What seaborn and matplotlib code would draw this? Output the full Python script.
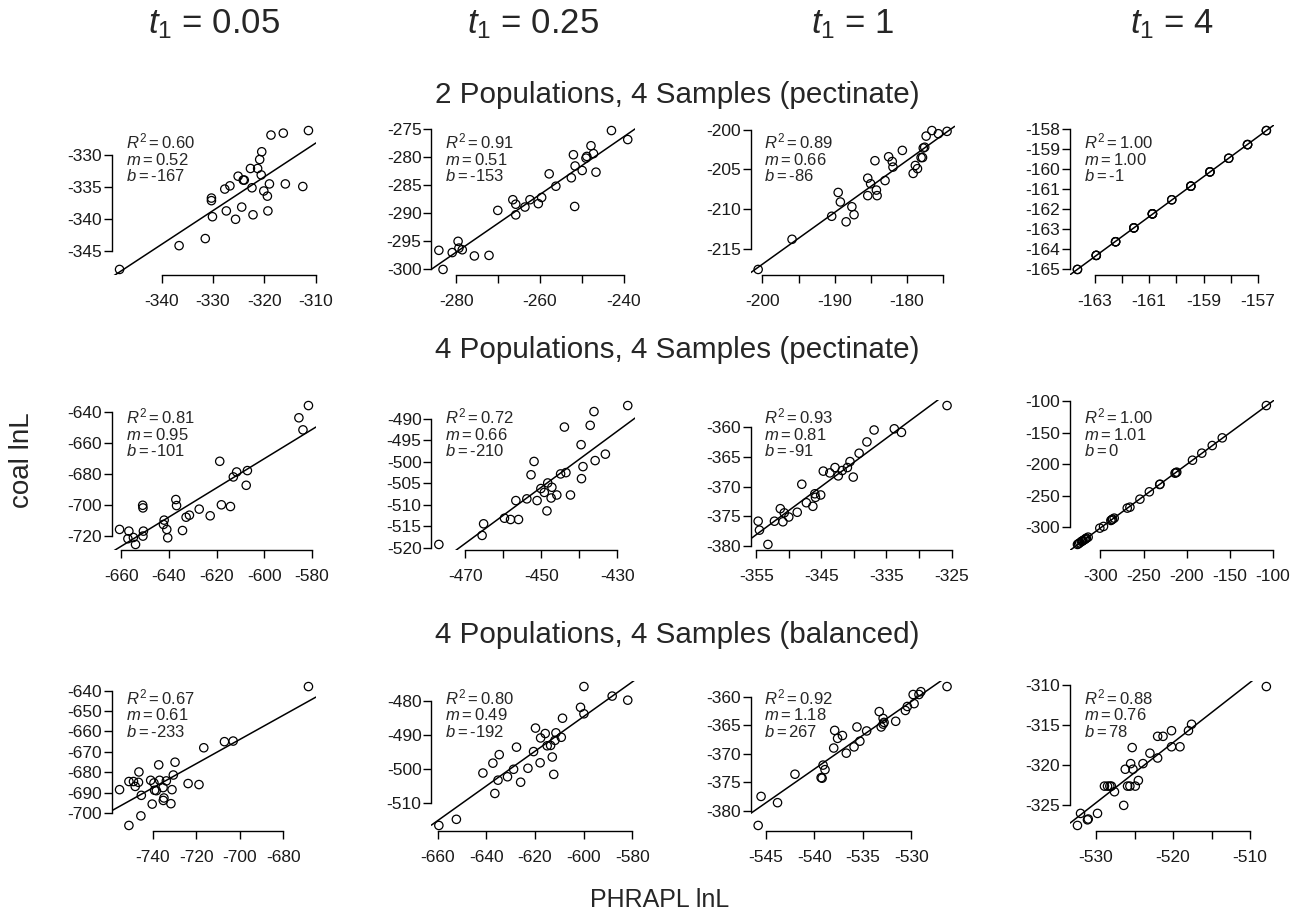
import matplotlib
matplotlib.use("Agg")
import matplotlib.pyplot as plt
import seaborn as sns

sns.set_theme(style="ticks")
plt.rcParams["font.family"] = ["Liberation Sans", "DejaVu Sans"]
plt.rcParams["mathtext.fontset"] = "custom"
plt.rcParams["mathtext.rm"] = "Liberation Sans"
plt.rcParams["mathtext.it"] = "Liberation Sans:italic"
plt.rcParams["axes.unicode_minus"] = False

# column / row headers
col_titles = [r"$t_{\mathit{1}}$ = 0.05", r"$t_{\mathit{1}}$ = 0.25", r"$t_{\mathit{1}}$ = 1", r"$t_{\mathit{1}}$ = 4"]
row_titles = ["2 Populations, 4 Samples (pectinate)",
              "4 Populations, 4 Samples (pectinate)",
              "4 Populations, 4 Samples (balanced)"]

# ---- row 1 : 2 populations, pectinate
x_r1c1 = [-348.2, -336.6, -331.5, -330.3, -330.3, -330.1, -327.7, -327.4, -326.7, -325.6, -325.1, -324.4, -324.1, -323.9, -322.7,
          -322.4, -322.2, -321.3, -320.9, -320.6, -320.5, -320.1, -319.4, -319.3, -319.0, -318.7, -316.3, -315.9, -312.5, -311.4]
y_r1c1 = [-347.8, -344.1, -343.0, -336.7, -337.1, -339.6, -335.3, -338.7, -334.8, -340.0, -333.3, -338.1, -333.9, -333.9, -332.1,
          -335.1, -339.3, -332.1, -330.7, -333.1, -329.5, -335.6, -336.4, -338.7, -334.5, -326.9, -326.6, -334.5, -334.9, -326.2]

x_r1c2 = [-284.2, -283.2, -281.0, -279.6, -279.4, -278.6, -275.7, -272.2, -270.1, -266.5, -265.8, -265.8, -263.6, -262.4, -260.4,
          -259.6, -257.8, -256.2, -252.5, -252.0, -251.7, -251.6, -249.9, -249.0, -248.8, -247.8, -247.2, -246.6, -242.9, -239.0]
y_r1c2 = [-296.6, -300.0, -297.0, -295.0, -296.2, -296.5, -297.6, -297.5, -289.5, -287.6, -288.4, -290.3, -288.9, -287.6, -288.3,
          -287.2, -283.0, -285.2, -283.7, -279.6, -288.8, -281.6, -282.4, -280.2, -279.9, -278.0, -279.4, -282.7, -275.3, -276.9]

x_r1c3 = [-200.6, -195.9, -190.4, -189.5, -189.2, -188.4, -187.6, -187.3, -185.4, -185.4, -185.0, -184.4, -184.2, -184.1, -183.0,
          -182.5, -182.0, -181.9, -180.6, -179.1, -178.8, -178.5, -178.0, -177.8, -177.7, -177.5, -177.3, -176.5, -175.6, -174.4]
y_r1c3 = [-217.6, -213.8, -210.9, -207.9, -209.1, -211.6, -209.7, -210.7, -206.1, -208.3, -206.8, -203.9, -207.6, -208.3, -206.4,
          -203.4, -204.0, -204.7, -202.6, -205.5, -204.5, -204.9, -203.5, -203.5, -202.3, -202.2, -200.8, -200.1, -200.5, -200.2]

x_r1c4 = [-163.63, -163.63, -162.94, -162.94, -162.94, -162.23, -162.23, -161.56, -161.56, -161.56, -160.88, -160.88, -160.88,
          -160.17, -160.17, -159.47, -159.47, -159.47, -158.77, -158.77, -158.77, -158.08, -158.08, -157.39, -157.39, -157.39,
          -156.70, -156.70, -160.88, -162.23]
y_r1c4 = [-165.00, -165.00, -164.30, -164.30, -164.30, -163.62, -163.62, -162.93, -162.93, -162.93, -162.23, -162.23, -162.23,
          -161.53, -161.53, -160.85, -160.85, -160.85, -160.14, -160.14, -160.14, -159.46, -159.46, -158.78, -158.78, -158.78,
          -158.08, -158.08, -162.23, -163.62]

# ---- row 2 : 4 populations, pectinate
x_r2c1 = [-660.7, -656.8, -657.2, -654.9, -654.0, -651.0, -650.9, -650.7, -650.9, -642.0, -642.3, -640.9, -640.5, -637.1, -636.8,
          -634.3, -632.8, -631.4, -627.3, -622.7, -618.7, -618.0, -614.2, -613.0, -611.6, -607.6, -607.1, -585.5, -583.8, -581.5]
y_r2c1 = [-715.7, -716.8, -721.7, -720.9, -725.4, -700.1, -701.8, -716.8, -720.0, -709.7, -712.5, -715.7, -721.1, -696.4, -700.3,
          -716.4, -707.8, -706.5, -702.6, -706.9, -671.7, -699.8, -700.9, -681.8, -678.6, -687.2, -677.7, -643.6, -651.4, -635.7]

x_r2c2 = [-477.0, -465.6, -465.2, -459.7, -458.1, -456.0, -456.7, -453.8, -452.7, -451.9, -451.1, -450.1, -449.2, -448.5, -448.3,
          -447.4, -447.2, -445.9, -444.9, -443.9, -443.5, -442.3, -439.5, -439.4, -439.0, -437.1, -436.1, -435.8, -433.1, -427.2]
y_r2c2 = [-519.2, -517.1, -514.4, -513.1, -513.4, -513.4, -509.0, -508.6, -503.0, -499.9, -509.0, -506.2, -507.1, -511.4, -504.9,
          -508.4, -505.9, -507.7, -502.8, -491.9, -502.5, -507.7, -496.0, -503.9, -501.1, -491.5, -488.3, -499.7, -498.2, -486.9]

x_r2c3 = [-354.7, -354.5, -353.2, -352.2, -351.3, -350.9, -350.7, -350.0, -348.7, -348.0, -347.3, -346.3, -346.0, -345.9, -345.1,
          -344.7, -343.7, -342.9, -342.4, -341.8, -341.0, -340.6, -340.1, -339.2, -338.0, -336.9, -333.8, -332.7, -325.7]
y_r2c3 = [-375.8, -377.3, -379.7, -375.8, -373.7, -375.9, -374.4, -375.1, -374.3, -369.6, -372.7, -373.3, -371.2, -371.8, -371.4,
          -367.4, -367.7, -366.8, -368.2, -367.3, -366.8, -365.8, -368.4, -364.4, -362.5, -360.5, -360.3, -360.9, -356.4]

x_r2c4 = [-326.7, -325.5, -324.0, -322.1, -321.0, -320.2, -318.2, -317.3, -316.3, -314.3, -300.8, -296.5, -288.0, -286.9, -286.0,
          -284.1, -269.0, -265.9, -254.3, -243.4, -231.4, -231.0, -213.6, -212.6, -211.6, -193.4, -182.6, -170.5, -158.9, -107.8]
y_r2c4 = [-327.5, -326.3, -324.9, -322.8, -322.0, -321.2, -319.6, -318.5, -317.5, -315.9, -301.6, -298.9, -289.4, -288.3, -287.3,
          -285.7, -269.8, -268.3, -255.6, -243.9, -232.3, -231.8, -214.3, -213.5, -212.7, -193.7, -182.5, -170.4, -158.2, -106.9]

# ---- row 3 : 4 populations, balanced
x_r3c1 = [-755.3, -751.0, -751.0, -748.9, -748.1, -746.6, -746.4, -745.3, -745.5, -741.0, -740.3, -739.5, -739.2, -738.4, -737.3,
          -736.9, -735.3, -735.2, -734.9, -733.8, -731.7, -731.2, -730.6, -729.8, -723.8, -718.8, -716.6, -707.1, -703.1, -668.5]
y_r3c1 = [-688.6, -684.6, -706.2, -684.6, -687.0, -685.0, -679.9, -691.4, -701.5, -684.0, -695.7, -685.3, -688.9, -689.1, -676.4,
          -684.0, -687.6, -693.9, -692.7, -684.3, -695.5, -688.6, -681.4, -675.1, -685.6, -686.1, -668.0, -665.0, -664.7, -637.9]

x_r3c2 = [-659.5, -652.3, -641.4, -637.3, -636.5, -635.2, -634.7, -631.3, -628.8, -627.6, -625.9, -622.9, -620.6, -619.8, -617.9,
          -617.7, -615.8, -615.0, -613.6, -612.9, -612.3, -611.8, -611.4, -609.2, -608.7, -601.3, -599.9, -599.9, -588.3, -581.9]
y_r3c2 = [-516.7, -514.9, -501.3, -498.4, -507.3, -503.4, -495.9, -502.4, -500.2, -493.7, -504.0, -499.9, -495.0, -488.1, -498.3,
          -491.0, -489.7, -493.3, -493.2, -496.6, -501.7, -491.7, -489.5, -490.8, -485.2, -482.0, -475.9, -483.9, -478.7, -479.9]

x_r3c3 = [-545.8, -545.5, -543.8, -542.0, -539.3, -539.2, -539.1, -538.9, -538.0, -537.9, -537.6, -537.1, -536.7, -535.9, -535.6,
          -535.3, -534.6, -533.3, -533.1, -532.9, -532.9, -532.8, -531.6, -530.6, -530.4, -529.8, -529.7, -529.2, -529.0, -526.3]
y_r3c3 = [-382.6, -377.5, -378.6, -373.6, -374.2, -374.3, -372.0, -372.8, -369.0, -365.9, -367.3, -366.8, -369.9, -368.8, -365.3,
          -367.8, -366.0, -362.6, -365.3, -363.8, -364.8, -364.5, -364.3, -362.4, -361.7, -359.6, -361.2, -359.6, -359.1, -358.2]

x_r3c4 = [-532.4, -532.0, -531.1, -531.0, -529.8, -528.9, -528.5, -528.2, -528.0, -527.6, -526.4, -526.2, -525.9, -525.6, -525.5,
          -525.3, -525.2, -524.9, -524.5, -523.9, -523.0, -522.0, -522.0, -521.3, -520.2, -520.2, -519.1, -518.0, -517.6, -507.9]
y_r3c4 = [-327.5, -326.0, -326.8, -326.7, -326.0, -322.6, -322.6, -322.6, -322.6, -323.3, -325.0, -320.5, -322.6, -322.6, -319.8,
          -317.8, -320.5, -322.6, -321.9, -319.8, -318.5, -316.4, -319.1, -316.4, -317.7, -315.7, -317.7, -315.7, -314.9, -310.2]

# fit summaries as printed in each panel
r2_txt = [["0.60", "0.91", "0.89", "1.00"], ["0.81", "0.72", "0.93", "1.00"], ["0.67", "0.80", "0.92", "0.88"]]
m_txt = [["0.52", "0.51", "0.66", "1.00"], ["0.95", "0.66", "0.81", "1.01"], ["0.61", "0.49", "1.18", "0.76"]]
b_txt = [["-167", "-153", "-86", "-1"], ["-101", "-210", "-91", "0"], ["-233", "-192", "267", "78"]]

# axis ticks (R drops labels that would collide, so some ticks stay unlabelled)
xticks = [[range(-340, -309, 10), range(-280, -239, 10), range(-200, -174, 5), range(-163, -156, 1)],
          [range(-660, -579, 20), range(-470, -429, 10), range(-355, -324, 5), range(-300, -99, 50)],
          [range(-740, -679, 20), range(-660, -579, 20), range(-545, -529, 5), range(-530, -509, 5)]]
xlab_every = [[1, 2, 2, 2], [1, 2, 2, 1], [1, 1, 1, 2]]
yticks = [[range(-345, -329, 5), range(-300, -274, 5), range(-215, -199, 5), range(-165, -157, 1)],
          [range(-720, -639, 20), range(-520, -489, 5), range(-380, -359, 5), range(-300, -99, 50)],
          [range(-700, -639, 10), range(-510, -479, 10), range(-380, -359, 5), range(-325, -309, 5)]]

data = [[(x_r1c1, y_r1c1), (x_r1c2, y_r1c2), (x_r1c3, y_r1c3), (x_r1c4, y_r1c4)],
        [(x_r2c1, y_r2c1), (x_r2c2, y_r2c2), (x_r2c3, y_r2c3), (x_r2c4, y_r2c4)],
        [(x_r3c1, y_r3c1), (x_r3c2, y_r3c2), (x_r3c3, y_r3c3), (x_r3c4, y_r3c4)]]

W, H = 1299, 921
fig = plt.figure(figsize=(W / 100, H / 100), dpi=100)

box_left = [112 + 319.3 * j for j in range(4)]
box_top = [125, 400, 681]
box_w, box_h = 204, 150

for i in range(3):
    for j in range(4):
        x, y = data[i][j]
        ax = fig.add_axes([box_left[j] / W, 1 - (box_top[i] + box_h) / H, box_w / W, box_h / H])
        sns.scatterplot(x=x, y=y, ax=ax, marker="o", s=36, color="black",
                        facecolors="none", edgecolor="black", linewidth=0.9, zorder=3)
        # R style 4% padding
        xr, yr = max(x) - min(x), max(y) - min(y)
        xlim = (min(x) - 0.04 * xr, max(x) + 0.04 * xr)
        ylim = (min(y) - 0.04 * yr, max(y) + 0.04 * yr)
        ax.set_xlim(xlim)
        ax.set_ylim(ylim)
        sns.regplot(x=x, y=y, ax=ax, scatter=False, ci=None, truncate=False,
                    color="black", line_kws=dict(lw=1.1, zorder=4))
        ax.set_xlim(xlim)
        ax.set_ylim(ylim)

        xt = list(xticks[i][j])
        yt = list(yticks[i][j])
        ax.set_xticks(xt, labels=[str(v) if k % xlab_every[i][j] == 0 else "" for k, v in enumerate(xt)])
        ax.set_yticks(yt, labels=[str(v) for v in yt])
        sns.despine(ax=ax)
        ax.spines["bottom"].set_bounds(xt[0], xt[-1])
        ax.spines["left"].set_bounds(yt[0], yt[-1])
        for s in ["bottom", "left"]:
            ax.spines[s].set_linewidth(1.0)
            ax.spines[s].set_color("black")
        ax.tick_params(length=5.5, width=1.0, color="black", labelsize=12.5, labelcolor="#1a1a1a")
        ax.tick_params(axis="x", pad=8)
        ax.tick_params(axis="y", pad=1.5)
        ax.set_facecolor("none")
        ax.grid(False)

        ax.text(0.068, 0.89, r"$R^2 = $" + r2_txt[i][j], transform=ax.transAxes, ha="left", va="center", fontsize=12)
        ax.text(0.068, 0.77, r"$m = $" + m_txt[i][j], transform=ax.transAxes, ha="left", va="center", fontsize=12)
        ax.text(0.068, 0.66, r"$b = $" + b_txt[i][j], transform=ax.transAxes, ha="left", va="center", fontsize=12)

for j, t in enumerate(col_titles):
    fig.text((box_left[j] + box_w / 2) / W, 1 - 24 / H, t, ha="center", va="center", fontsize=25)

for i, (t, yc) in enumerate(zip(row_titles, [95, 350, 635])):
    fig.text(677 / W, 1 - yc / H, t, ha="center", va="center", fontsize=21.3)

fig.text(22 / W, 1 - 460 / H, "coal lnL", rotation=90, ha="center", va="center", fontsize=20)
fig.text(660 / W, 1 - 900 / H, "PHRAPL lnL", ha="center", va="center", fontsize=18)

fig.savefig("out.png", dpi=100, facecolor="white")
